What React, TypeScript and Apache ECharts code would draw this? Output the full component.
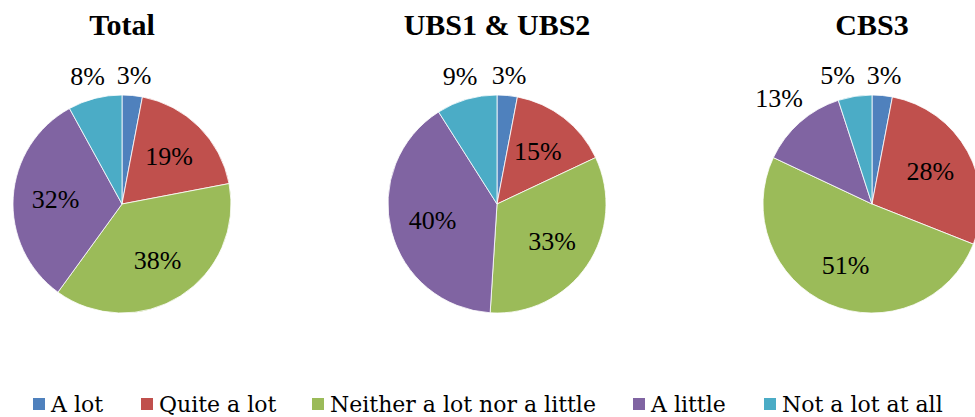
import { useEffect, useRef } from 'react';
import * as echarts from 'echarts';

// Survey answers, in percent, per group
const categories = ['A lot', 'Quite a lot', 'Neither a lot nor a little', 'A little', 'Not a lot at all'];
const groupNames = ['Total', 'UBS1 & UBS2', 'CBS3'];
const totalValues = [3, 19, 38, 32, 8];
const ubsValues = [3, 15, 33, 40, 9];
const cbsValues = [3, 28, 51, 13, 5];
const palette = ['#4F81BD', '#C0504D', '#9BBB59', '#8064A2', '#4BACC6'];

const groupValues = [totalValues, ubsValues, cbsValues];

// Layout
const WIDTH = 975;
const HEIGHT = 417;
const pieCentersX = [122, 497, 872];
const pieCenterY = 204;
const pieRadius = 109;
const legendLefts = [31, 139, 310, 631, 762];
const SMALL_SLICE = 14; // slices below this get their label outside

type Rect = { x: number; y: number; width: number; height: number };

function makeLabelLayout(cx: number, values: number[]) {
  // outside labels already placed in the current layout pass
  let placed: { idx: number; r: Rect }[] = [];
  return (p: any) => {
    if (p.dataIndex === 0) placed = [];
    const lr: Rect = p.labelRect;
    const lx = lr.x + lr.width / 2;
    const ly = lr.y + lr.height / 2;
    const dx = lx - cx;
    const dy = ly - pieCenterY;
    const d = Math.hypot(dx, dy) || 1;
    const ux = dx / d;
    const uy = dy / d;
    const small = values[p.dataIndex] < SMALL_SLICE;
    if (!small) {
      const dist = pieRadius * 0.61;
      return { x: cx + ux * dist, y: pieCenterY + uy * dist, align: 'center', verticalAlign: 'middle' };
    }
    const dist = pieRadius + 6 + (Math.abs(ux) * lr.width) / 2 + (Math.abs(uy) * lr.height) / 2;
    let tx = cx + ux * dist;
    const ty = pieCenterY + uy * dist;
    const gap = 12;
    const h = lr.height * 0.7;
    // push sideways away from neighbours that sit on the same line
    for (const o of placed) {
      const oy = o.r.y + o.r.height / 2;
      if (Math.abs(oy - ty) >= h) continue;
      const left = tx - lr.width / 2;
      const right = tx + lr.width / 2;
      if (right + gap > o.r.x && left - gap < o.r.x + o.r.width) {
        if (tx <= o.r.x + o.r.width / 2) tx = o.r.x - gap - lr.width / 2;
        else tx = o.r.x + o.r.width + gap + lr.width / 2;
      }
    }
    placed.push({ idx: p.dataIndex, r: { x: tx - lr.width / 2, y: ty - lr.height / 2, width: lr.width, height: lr.height } });
    return { x: tx, y: ty, align: 'center', verticalAlign: 'middle' };
  };
}

export default function App() {
  const ref = useRef<HTMLDivElement>(null);

  useEffect(() => {
    if (!ref.current) return;
    const chart = echarts.init(ref.current, null, { renderer: 'svg', width: WIDTH, height: HEIGHT });

    const titles = groupNames.map((name, i) => ({
      text: name,
      left: pieCentersX[i],
      textAlign: 'center',
      top: 9,
      padding: 0,
      textStyle: { fontFamily: 'Liberation Serif', fontWeight: 'bold', fontSize: 30, color: '#000' },
    }));

    const legends = categories.map((name, i) => ({
      data: [name],
      left: legendLefts[i],
      top: 393,
      padding: 0,
      itemWidth: 14,
      itemHeight: 14,
      icon: 'rect',
      selectedMode: false,
      textStyle: { fontFamily: 'DejaVu Serif', fontSize: 22, color: '#000' },
    }));

    const series = groupValues.map((values, i) => ({
      type: 'pie',
      name: groupNames[i],
      center: [pieCentersX[i], pieCenterY],
      radius: pieRadius,
      startAngle: 90,
      clockwise: true,
      avoidLabelOverlap: false,
      silent: true,
      itemStyle: { borderColor: '#ffffff', borderWidth: 0.8 },
      label: {
        show: true,
        position: 'inside',
        formatter: '{c}%',
        fontFamily: 'Liberation Serif',
        fontSize: 26,
        color: '#000',
      },
      labelLine: { show: false },
      labelLayout: makeLabelLayout(pieCentersX[i], values),
      data: categories.map((c, k) => ({ name: c, value: values[k] })),
    }));

    chart.setOption({
      animation: false,
      backgroundColor: '#ffffff',
      color: palette,
      title: titles,
      legend: legends,
      series,
    });

    return () => chart.dispose();
  }, []);

  return (
    <div
      ref={ref}
      style={{ position: 'absolute', left: 0, top: 0, width: WIDTH, height: HEIGHT }}
    />
  );
}
